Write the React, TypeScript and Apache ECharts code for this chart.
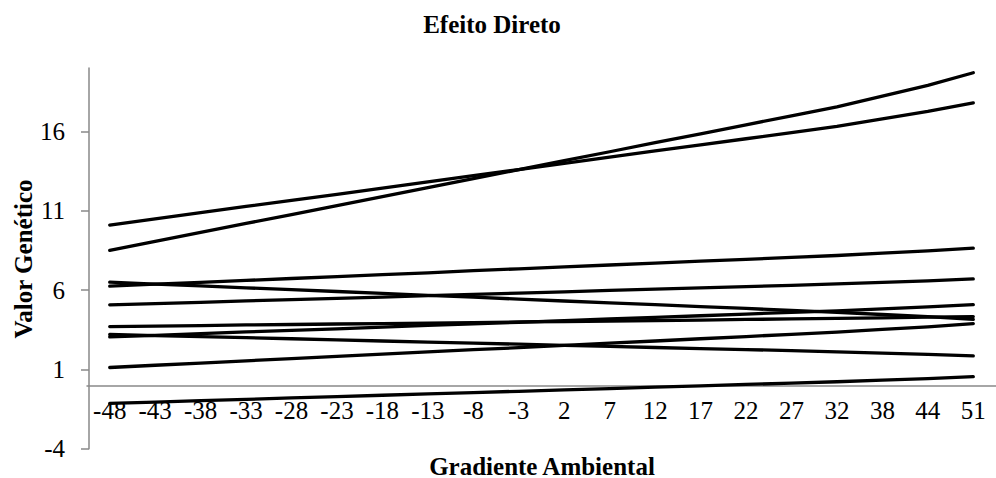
import React, { useEffect, useRef } from "react";
import * as echarts from "echarts";

const categories = ["-48", "-43", "-38", "-33", "-28", "-23", "-18", "-13", "-8", "-3", "2", "7", "12", "17", "22", "27", "32", "38", "44", "51"];

const lineA = [10.10, 10.49, 10.88, 11.27, 11.66, 12.04, 12.43, 12.82, 13.21, 13.60, 13.99, 14.38, 14.77, 15.16, 15.54, 15.93, 16.32, 16.79, 17.26, 17.80];
const lineB = [8.50, 9.07, 9.63, 10.20, 10.76, 11.33, 11.89, 12.46, 13.03, 13.59, 14.16, 14.72, 15.29, 15.85, 16.42, 16.98, 17.55, 18.23, 18.91, 19.70];
const lineC = [6.25, 6.37, 6.49, 6.61, 6.73, 6.85, 6.97, 7.09, 7.22, 7.34, 7.46, 7.58, 7.70, 7.82, 7.94, 8.06, 8.18, 8.33, 8.47, 8.64];
const lineD = [6.50, 6.38, 6.26, 6.14, 6.03, 5.91, 5.79, 5.67, 5.55, 5.43, 5.31, 5.19, 5.08, 4.96, 4.84, 4.72, 4.60, 4.46, 4.32, 4.15];
const lineE = [5.07, 5.15, 5.23, 5.32, 5.40, 5.48, 5.56, 5.65, 5.73, 5.81, 5.89, 5.98, 6.06, 6.14, 6.22, 6.30, 6.39, 6.49, 6.58, 6.70];
const lineF = [3.70, 3.73, 3.76, 3.80, 3.83, 3.86, 3.89, 3.92, 3.95, 3.99, 4.02, 4.05, 4.08, 4.11, 4.15, 4.18, 4.21, 4.25, 4.29, 4.33];
const lineG = [3.05, 3.15, 3.26, 3.36, 3.46, 3.56, 3.67, 3.77, 3.87, 3.97, 4.08, 4.18, 4.28, 4.38, 4.49, 4.59, 4.69, 4.81, 4.94, 5.08];
const lineH = [3.20, 3.13, 3.06, 3.00, 2.93, 2.86, 2.79, 2.72, 2.65, 2.59, 2.52, 2.45, 2.38, 2.31, 2.25, 2.18, 2.11, 2.03, 1.95, 1.85];
const lineJ = [1.12, 1.26, 1.40, 1.54, 1.68, 1.82, 1.96, 2.10, 2.24, 2.37, 2.51, 2.65, 2.79, 2.93, 3.07, 3.21, 3.35, 3.52, 3.68, 3.88];
const lineK = [-1.14, -1.06, -0.97, -0.89, -0.80, -0.72, -0.63, -0.55, -0.46, -0.38, -0.29, -0.21, -0.12, -0.04, 0.05, 0.13, 0.22, 0.32, 0.42, 0.54];

const allLines = [lineA, lineB, lineC, lineD, lineE, lineF, lineG, lineH, lineJ, lineK];

const yTicks = [-4, 1, 6, 11, 16];
const yMin = -4;
const yMax = 20;

const titleText = "Efeito Direto";
const xName = "Gradiente Ambiental";
const yName = "Valor Genético";

export default function App() {
  const ref = useRef<HTMLDivElement>(null);

  useEffect(() => {
    if (!ref.current) return;
    const chart = echarts.init(ref.current, null, { renderer: "svg" });
    const font = "'Liberation Serif', 'Times New Roman', serif";
    const axisGray = "#898989";
    const gridTop = 68;
    const gridBottom = 29.3;
    const gridHeight = 478 - gridTop - gridBottom;
    // move the category axis (line and labels) up to the value 0
    const zeroOffset = -((0 - yMin) / (yMax - yMin)) * gridHeight;

    chart.setOption({
      animation: false,
      backgroundColor: "#ffffff",
      grid: { left: 87, right: 0, top: gridTop, bottom: gridBottom, containLabel: false, outerBoundsMode: "none" },
      xAxis: {
        type: "category",
        data: categories,
        boundaryGap: true,
        offset: zeroOffset,
        axisLine: { onZero: false, lineStyle: { color: axisGray, width: 1.5 } },
        axisTick: { show: false },
        axisLabel: { interval: 0, color: "#000", fontFamily: font, fontSize: 25, margin: 13, hideOverlap: false },
        splitLine: { show: false },
      },
      yAxis: {
        type: "value",
        min: yMin,
        max: yMax,
        interval: 5,
        offset: -2,
        axisLine: { show: true, lineStyle: { color: axisGray, width: 1.5 } },
        axisTick: { show: true, length: 8, customValues: yTicks, lineStyle: { color: axisGray, width: 1.5 } },
        axisLabel: { customValues: yTicks, color: "#000", fontFamily: font, fontSize: 25, margin: 24 },
        splitLine: { show: false },
      },
      graphic: [
        {
          type: "text",
          x: 492,
          y: 24,
          style: { text: titleText, fontFamily: font, fontSize: 25, fontWeight: "bold", fill: "#000", align: "center", verticalAlign: "middle" },
        },
        {
          type: "text",
          x: 542,
          y: 466,
          style: { text: xName, fontFamily: font, fontSize: 25, fontWeight: "bold", fill: "#000", align: "center", verticalAlign: "middle" },
        },
        {
          type: "text",
          x: 23,
          y: 259,
          rotation: Math.PI / 2,
          style: { text: yName, fontFamily: font, fontSize: 25, fontWeight: "bold", fill: "#000", align: "center", verticalAlign: "middle" },
        },
      ],
      series: allLines.map((d, i) => ({
        name: "s" + i,
        type: "line",
        data: d,
        symbol: "none",
        lineStyle: { color: "#000", width: 3.3, cap: "round", join: "round" },
        silent: true,
      })),
    });

    return () => chart.dispose();
  }, []);

  return (
    <div
      ref={ref}
      style={{ position: "fixed", left: 0, top: 0, width: 996, height: 478, background: "#fff" }}
    />
  );
}
